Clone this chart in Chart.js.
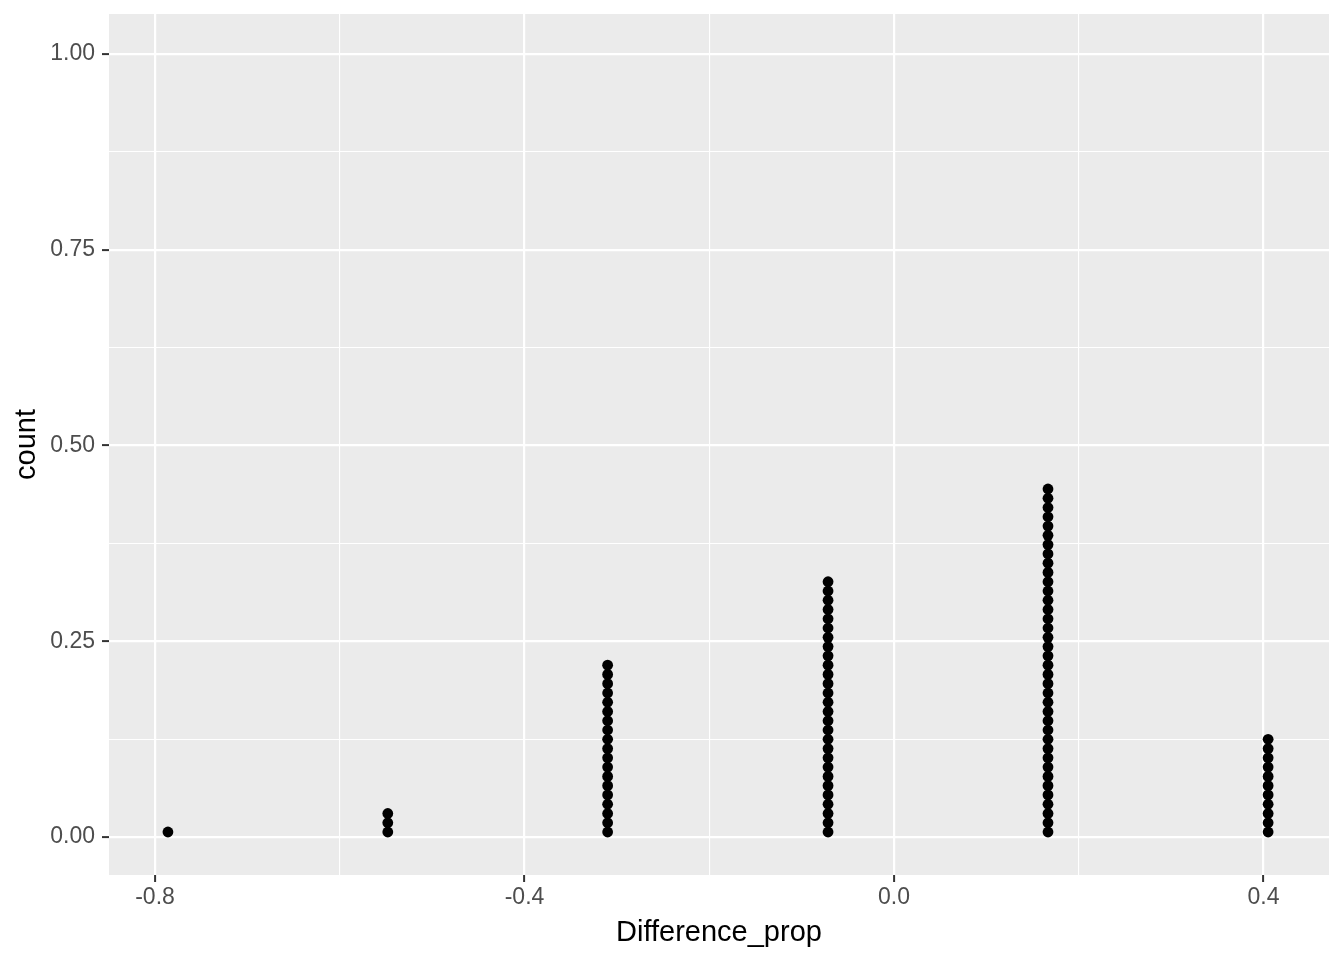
<html>

<head>
    <title>Dotplot</title>
    <script src="https://cdn.jsdelivr.net/npm/chart.js@4.4.1/dist/chart.umd.min.js"></script>
    <style>
        body { margin: 0; background: #ffffff; }
        #wrap { width: 1344px; height: 960px; }
    </style>
</head>

<body>
    <div id="wrap"><canvas id="plotCanvas" width="1344" height="960"></canvas></div>

    <script>
        // bin centres on Difference_prop and how many dots sit in each stack
        const binCentres = [-0.786, -0.548, -0.310, -0.0714, 0.1667, 0.405]
        const binCounts = [1, 3, 19, 28, 38, 11]

        // axis ticks (major ones carry labels, minor ones only a grid line)
        const xTicks = [-0.8, -0.6, -0.4, -0.2, 0.0, 0.2, 0.4]
        const xLabels = ['-0.8', '', '-0.4', '', '0.0', '', '0.4']
        const yTicks = [0, 0.125, 0.25, 0.375, 0.5, 0.625, 0.75, 0.875, 1]
        const yLabels = ['0.00', '', '0.25', '', '0.50', '', '0.75', '', '1.00']

        // stacked dots: first dot centre and spacing, in count units
        const dotBase = 0.0064
        const dotStep = 0.01184

        const points = []
        binCentres.forEach((x, i) => {
            for (let k = 0; k < binCounts[i]; k++) {
                points.push({ x, y: dotBase + k * dotStep })
            }
        })

        const font = '"Liberation Sans", Arial, Helvetica, sans-serif'
        const isMajor = labels => ctx => (labels[ctx.index] ? 2.2 : 1.1)
        const tickCol = labels => ctx => (labels[ctx.index] ? '#333333' : 'rgba(0,0,0,0)')

        const panelBg = {
            id: 'panelBg',
            beforeDraw(chart) {
                const { ctx, chartArea: a } = chart
                ctx.save()
                ctx.fillStyle = '#EBEBEB'
                ctx.fillRect(a.left, a.top, a.right - a.left, a.bottom - a.top)
                ctx.restore()
            },
        }

        new Chart(document.getElementById('plotCanvas'), {
            type: 'scatter',
            data: {
                datasets: [{
                    data: points,
                    backgroundColor: '#000000',
                    borderColor: '#000000',
                    borderWidth: 0,
                    pointRadius: 5.4,
                    pointHoverRadius: 5.4,
                }],
            },
            options: {
                responsive: false,
                animation: false,
                devicePixelRatio: 1,
                layout: { padding: { top: 14, right: 15, left: 0, bottom: 0 } },
                plugins: {
                    legend: { display: false },
                    tooltip: { enabled: false },
                },
                scales: {
                    x: {
                        type: 'linear',
                        min: -0.8498,
                        max: 0.4709,
                        afterBuildTicks: s => { s.ticks = xTicks.map(v => ({ value: v })) },
                        afterFit: s => {
                            s.height = 85
                            s.paddingLeft = 0
                            s.paddingRight = 0
                        },
                        border: { display: false },
                        grid: {
                            color: '#FFFFFF',
                            lineWidth: isMajor(xLabels),
                            drawTicks: true,
                            tickLength: 7,
                            tickWidth: 2,
                            tickColor: tickCol(xLabels),
                        },
                        ticks: {
                            autoSkip: false,
                            maxRotation: 0,
                            padding: 2,
                            color: '#4D4D4D',
                            font: { family: font, size: 23 },
                            callback: (v, i) => xLabels[i],
                        },
                        title: {
                            display: true,
                            text: 'Difference_prop',
                            color: '#000000',
                            font: { family: font, size: 29 },
                            padding: { top: 0, bottom: 10 },
                        },
                    },
                    y: {
                        type: 'linear',
                        min: -0.0485,
                        max: 1.0511,
                        afterBuildTicks: s => { s.ticks = yTicks.map(v => ({ value: v })) },
                        afterFit: s => {
                            s.width = 109
                            s.paddingTop = 0
                            s.paddingBottom = 0
                        },
                        border: { display: false },
                        grid: {
                            color: '#FFFFFF',
                            lineWidth: isMajor(yLabels),
                            drawTicks: true,
                            tickLength: 7,
                            tickWidth: 2,
                            tickColor: tickCol(yLabels),
                        },
                        ticks: {
                            autoSkip: false,
                            padding: 7,
                            color: '#4D4D4D',
                            font: { family: font, size: 23 },
                            callback: (v, i) => yLabels[i],
                        },
                        title: {
                            display: true,
                            text: 'count',
                            color: '#000000',
                            font: { family: font, size: 29 },
                            padding: { top: 10, bottom: 0 },
                        },
                    },
                },
            },
            plugins: [panelBg],
        })
    </script>
</body>

</html>
